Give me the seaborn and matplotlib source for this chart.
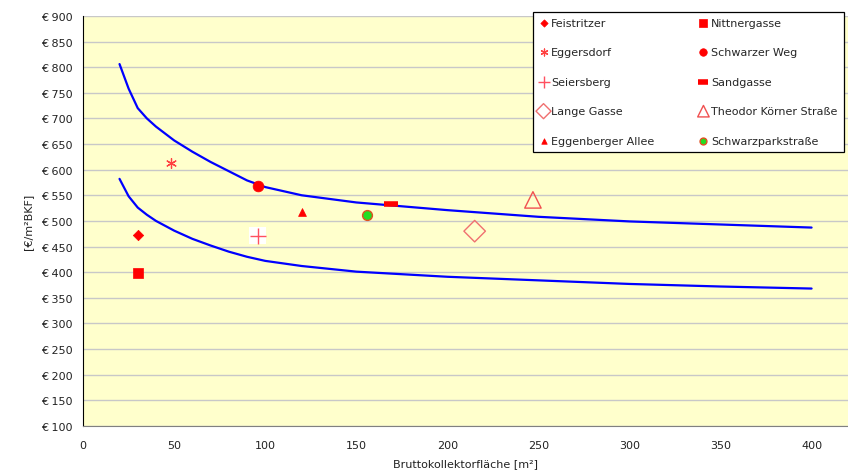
# Kollektorkosten vs. Bruttokollektorfläche

import matplotlib
matplotlib.use("Agg")
import matplotlib.pyplot as plt
import matplotlib.ticker as mticker
import seaborn as sns
import pandas as pd

# Grenzkurven (oben / unten)
curve_x = [20, 25, 30, 35, 40, 50, 60, 70, 80, 90, 100, 120, 150, 200, 250, 300, 350, 400]
upper_y = [806, 758, 720, 700, 684, 657, 635, 615, 597, 579, 566, 550, 536, 521, 508, 499, 493, 487]
lower_y = [582, 548, 526, 512, 500, 481, 465, 452, 440, 430, 422, 412, 401, 391, 384, 377, 372, 368]

# Anlagen
names = ["Feistritzer", "Nittnergasse", "Eggersdorf", "Schwarzer Weg", "Seiersberg",
         "Sandgasse", "Lange Gasse", "Theodor Körner Straße", "Eggenberger Allee",
         "Schwarzparkstraße"]
area = [30, 30, 48, 96, 96, 169, 215, 247, 120, 156]
cost = [473, 399, 613, 569, 471, 533, 480, 541, 517, 512]

# legend order (two columns)
legend_order = ["Feistritzer", "Eggersdorf", "Seiersberg", "Lange Gasse", "Eggenberger Allee",
                "Nittnergasse", "Schwarzer Weg", "Sandgasse", "Theodor Körner Straße",
                "Schwarzparkstraße"]

styles = {
    "Feistritzer": dict(marker="D", s=28, color="red", edgecolor="red", linewidth=0.5),
    "Nittnergasse": dict(marker="s", s=55, color="red", edgecolor="red", linewidth=0.5),
    "Eggersdorf": dict(marker=(6, 2, 0), s=50, color="#ff4040", linewidth=0.9),
    "Schwarzer Weg": dict(marker="o", s=60, color="red", edgecolor="red", linewidth=0.5),
    "Seiersberg": dict(marker="+", s=130, color="#ff5060", linewidth=1.0),
    "Sandgasse": dict(marker="_", s=100, color="red", linewidth=4),
    "Lange Gasse": dict(marker="D", s=120, facecolor="none", edgecolor="#f07070", linewidth=1.0),
    "Theodor Körner Straße": dict(marker="^", s=140, facecolor="none", edgecolor="#f05050", linewidth=1.0),
    "Eggenberger Allee": dict(marker="^", s=32, color="red", edgecolor="red", linewidth=0.5),
    "Schwarzparkstraße": dict(marker="o", s=50, color="#22dd22", edgecolor="#e05020", linewidth=1.0),
}

df = pd.DataFrame({"name": names, "area": area, "cost": cost})
curves = pd.DataFrame({"x": curve_x, "upper": upper_y, "lower": lower_y})

sns.set_style("white")
plt.rcParams["font.family"] = ["DejaVu Sans"]
plt.rcParams["font.size"] = 8

fig = plt.figure(figsize=(8.48, 4.77), dpi=100)
ax = fig.add_axes([0.098, 0.105, 0.902, 0.8596])
ax.set_facecolor("#ffffcc")

sns.lineplot(data=curves, x="x", y="upper", color="#0000ff", lw=1.6, ax=ax, legend=False)
sns.lineplot(data=curves, x="x", y="lower", color="#0000ff", lw=1.6, ax=ax, legend=False)

# white background behind the plus marker
sp = df[df["name"] == "Seiersberg"]
sns.scatterplot(data=sp, x="area", y="cost", marker="s", s=150, color="white",
                edgecolor="none", ax=ax, legend=False, zorder=3)

for _, row in df.iterrows():
    st = styles[row["name"]]
    sns.scatterplot(x=[row["area"]], y=[row["cost"]], ax=ax, label=row["name"], zorder=4, **st)

h, l = ax.get_legend_handles_labels()
hmap = dict(zip(l, h))
leg = ax.legend([hmap[n] for n in legend_order], legend_order, ncol=2,
                loc="upper left", bbox_to_anchor=(0.6285, 0.9735), bbox_transform=fig.transFigure,
                borderaxespad=0,
                frameon=True, fancybox=False, framealpha=1, edgecolor="black",
                fontsize=8, labelspacing=1.75, handlelength=0.8, handletextpad=0.3,
                columnspacing=4.0, borderpad=0.55, markerscale=0.7)
leg.get_frame().set_linewidth(0.9)

ax.set_xlim(0, 420)
ax.set_ylim(100, 900)
ax.set_xticks(range(0, 401, 50))
ax.set_yticks(range(100, 901, 50))
ax.yaxis.set_major_formatter(mticker.FuncFormatter(lambda v, p: f"€ {int(v)}"))
ax.grid(axis="y", color="#c8c8c8", lw=1)
ax.set_axisbelow(True)
for s in ["top", "right"]:
    ax.spines[s].set_visible(False)
ax.spines["left"].set_color("black")
ax.spines["bottom"].set_color("#808080")
ax.tick_params(axis="both", direction="out", length=4, width=0.8, colors="#222222", labelsize=8)
ax.tick_params(axis="x", pad=6)

ax.set_xlabel("Bruttokollektorfläche [m²]", fontsize=8, color="#222222", labelpad=6)
ax.set_ylabel("[€/m²BKF]", fontsize=8, color="#222222", labelpad=6)

fig.savefig("out.png", dpi=100, facecolor="white")
